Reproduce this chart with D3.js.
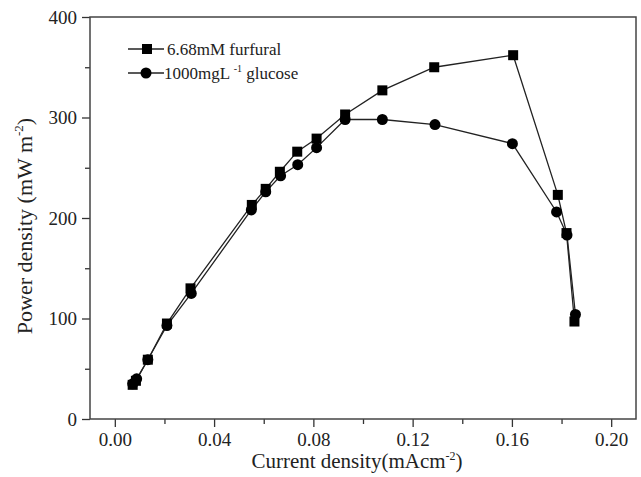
<!DOCTYPE html>
<html>
<head><script src="https://d3js.org/d3.v7.min.js"></script></head>
<body style="margin:0;background:#fff">
<svg id="chart" width="641" height="477"></svg>
<script>
// data
var furfuralX = [0.0072, 0.0085, 0.0133, 0.0210, 0.0305, 0.0552, 0.0608, 0.0665, 0.0735, 0.0813, 0.0928, 0.1078, 0.1287, 0.1605, 0.1785, 0.1820, 0.1852];
var furfuralY = [34, 38, 59, 95, 130, 213, 229, 246, 266, 279, 303, 327, 350, 362, 223, 185, 97];
var glucoseX = [0.0072, 0.0088, 0.0133, 0.0210, 0.0308, 0.0550, 0.0608, 0.0668, 0.0737, 0.0813, 0.0928, 0.1078, 0.1290, 0.1602, 0.1780, 0.1822, 0.1856];
var glucoseY = [35, 40, 59, 93, 125, 208, 226, 242, 253, 270, 298, 298, 293, 274, 206, 183, 104];
var xTicks = [0, 0.04, 0.08, 0.12, 0.16, 0.20];
var yTicks = [0, 100, 200, 300, 400];

var svg = d3.select("#chart");
var mLeft = 90, mRight = 636, mTop = 17, mBottom = 419;

var x = d3.scaleLinear().domain([-0.01, 0.21]).range([mLeft, mRight]);
var y = d3.scaleLinear().domain([0, 400]).range([mBottom, mTop]);

// minor ticks
var xMinor = [0.02, 0.06, 0.10, 0.14, 0.18];
var yMinor = [50, 150, 250, 350];

svg.append("g").attr("transform", "translate(0," + mBottom + ")")
  .call(d3.axisBottom(x).tickValues(xMinor).tickSize(5).tickFormat(""))
  .call(g => g.select(".domain").remove());
svg.append("g").attr("transform", "translate(" + mLeft + ",0)")
  .call(d3.axisLeft(y).tickValues(yMinor).tickSize(5).tickFormat(""))
  .call(g => g.select(".domain").remove());

var xAxis = svg.append("g").attr("transform", "translate(0," + mBottom + ")")
  .call(d3.axisBottom(x).tickValues(xTicks).tickSize(8).tickPadding(6).tickFormat(d3.format(".2f")));
var yAxis = svg.append("g").attr("transform", "translate(" + mLeft + ",0)")
  .call(d3.axisLeft(y).tickValues(yTicks).tickSize(8).tickPadding(5).tickFormat(d3.format("d")));

var font = "'Liberation Serif', 'Times New Roman', serif";
[xAxis, yAxis].forEach(function(a) {
  a.select(".domain").remove();
  a.selectAll("text").attr("font-family", font).attr("font-size", 19).attr("fill", "#222");
});
svg.selectAll(".tick line").attr("stroke", "#333").attr("stroke-width", 1.3);

// frame
svg.append("rect").attr("x", mLeft).attr("y", mTop)
  .attr("width", mRight - mLeft).attr("height", mBottom - mTop)
  .attr("fill", "none").attr("stroke", "#444").attr("stroke-width", 1.5);

var line = d3.line().x(d => x(d[0])).y(d => y(d[1]));
var furfural = furfuralX.map((v, i) => [v, furfuralY[i]]);
var glucose = glucoseX.map((v, i) => [v, glucoseY[i]]);

svg.append("path").datum(glucose).attr("d", line)
  .attr("fill", "none").attr("stroke", "#222").attr("stroke-width", 1.3);
svg.append("path").datum(furfural).attr("d", line)
  .attr("fill", "none").attr("stroke", "#222").attr("stroke-width", 1.3);

svg.selectAll(".sq").data(furfural).enter().append("rect")
  .attr("x", d => x(d[0]) - 5).attr("y", d => y(d[1]) - 5)
  .attr("width", 10).attr("height", 10).attr("fill", "#000");
svg.selectAll(".ci").data(glucose).enter().append("circle")
  .attr("cx", d => x(d[0])).attr("cy", d => y(d[1])).attr("r", 5.5).attr("fill", "#000");

// legend
svg.append("line").attr("x1", 128).attr("x2", 164).attr("y1", 49).attr("y2", 49).attr("stroke", "#222").attr("stroke-width", 1.3);
svg.append("rect").attr("x", 142).attr("y", 44).attr("width", 10).attr("height", 10).attr("fill", "#000");
svg.append("text").attr("x", 167).attr("y", 55).attr("font-family", font).attr("font-size", 17).attr("fill", "#222").text("6.68mM furfural");

svg.append("line").attr("x1", 128).attr("x2", 164).attr("y1", 73).attr("y2", 73).attr("stroke", "#222").attr("stroke-width", 1.3);
svg.append("circle").attr("cx", 146).attr("cy", 73).attr("r", 5.5).attr("fill", "#000");
var lg = svg.append("text").attr("x", 164).attr("y", 79).attr("font-family", font).attr("font-size", 17).attr("fill", "#222");
lg.append("tspan").text("1000mgL ");
lg.append("tspan").attr("font-size", 10).attr("dy", -7).text("-1");
lg.append("tspan").attr("dy", 7).text(" glucose");

// axis titles
var xt = svg.append("text").attr("x", 357).attr("y", 468).attr("text-anchor", "middle")
  .attr("font-family", font).attr("font-size", 21).attr("fill", "#222");
xt.append("tspan").text("Current density(mAcm");
xt.append("tspan").attr("font-size", 12).attr("dy", -8).text("-2");
xt.append("tspan").attr("dy", 8).text(")");

var yt = svg.append("text").attr("transform", "translate(32,226) rotate(-90)").attr("text-anchor", "middle")
  .attr("font-family", font).attr("font-size", 22).attr("fill", "#222");
yt.append("tspan").text("Power density (mW m");
yt.append("tspan").attr("font-size", 13).attr("dy", -9).text("-2");
yt.append("tspan").attr("dy", 9).text(")");
</script>
</body>
</html>
